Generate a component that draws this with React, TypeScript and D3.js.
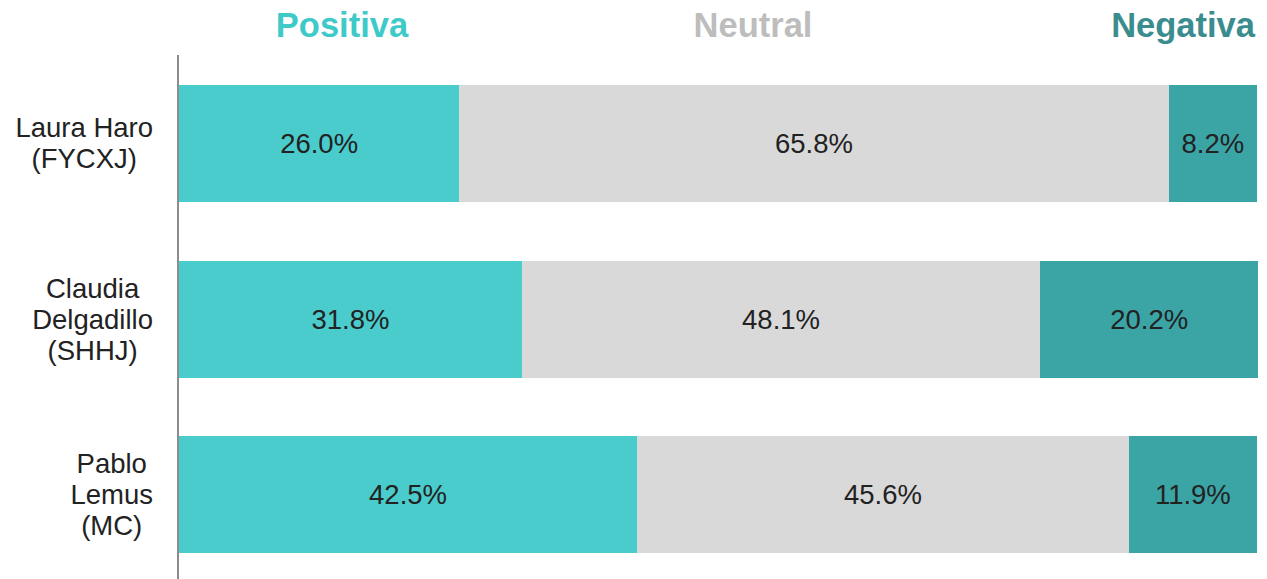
import React, { useEffect, useRef } from 'react';
import * as d3 from 'd3';

// candidate labels, one entry per line
const candidates = [
  ['Laura Haro', '(FYCXJ)'],
  ['Claudia', 'Delgadillo', '(SHHJ)'],
  ['Pablo', 'Lemus', '(MC)'],
];
const keys = ['Positiva', 'Neutral', 'Negativa'];
const positiva = [26.0, 31.8, 42.5];
const neutral = [65.8, 48.1, 45.6];
const negativa = [8.2, 20.2, 11.9];

const barColors = ['#4ACBCC', '#D9D9D9', '#3BA5A6'];
const headColors = ['#3FCACA', '#BDBDBD', '#3A8C8E'];

const App = () => {
  const ref = useRef<SVGSVGElement>(null);

  useEffect(() => {
    document.body.style.margin = '0';
    const width = 1267;
    const height = 579;
    const marginLeft = 179;
    const marginRight = 10;
    const font = "'Liberation Sans', Arial, sans-serif";

    const rows = candidates.map((c, i) => ({
      name: c.join(' '),
      lines: c,
      Positiva: positiva[i],
      Neutral: neutral[i],
      Negativa: negativa[i],
    }));

    const series = d3.stack<any>().keys(keys)(rows);

    const x = d3.scaleLinear().domain([0, 100]).range([marginLeft, width - marginRight]);
    const y = d3.scaleBand()
      .domain(rows.map(d => d.name))
      .range([56, 582])
      .paddingInner(0.335)
      .paddingOuter(0.165);

    const svg = d3.select(ref.current)
      .attr('width', width)
      .attr('height', height)
      .attr('viewBox', [0, 0, width, height] as any)
      .style('display', 'block')
      .style('font-family', font);
    svg.selectAll('*').remove();

    const layer = svg.append('g')
      .selectAll('g')
      .data(series)
      .join('g')
      .attr('fill', (_d, i) => barColors[i]);

    layer.selectAll('rect')
      .data(D => D)
      .join('rect')
      .attr('x', d => Math.round(x(d[0])))
      .attr('y', d => Math.round(y(d.data.name)!))
      .attr('width', d => Math.round(x(d[1])) - Math.round(x(d[0])))
      .attr('height', Math.round(y.bandwidth()));

    layer.selectAll('text')
      .data(D => D)
      .join('text')
      .attr('x', d => (x(d[0]) + x(d[1])) / 2)
      .attr('y', d => y(d.data.name)! + y.bandwidth() / 2)
      .attr('dy', '0.35em')
      .attr('text-anchor', 'middle')
      .attr('fill', '#222')
      .style('font-size', '27.5px')
      .text(d => (d[1] - d[0]).toFixed(1) + '%');

    // axis line
    svg.append('line')
      .attr('x1', marginLeft - 1)
      .attr('x2', marginLeft - 1)
      .attr('y1', 55)
      .attr('y2', height)
      .attr('stroke', '#8c8c8c')
      .attr('stroke-width', 2);

    // candidate labels: block right-aligned, lines centered in the block
    const lineH = 31;
    const labelRight = 153;
    rows.forEach(r => {
      const g = svg.append('g');
      const t = g.selectAll('text')
        .data(r.lines)
        .join('text')
        .attr('y', (_d, i) => y(r.name)! + y.bandwidth() / 2 + (i - (r.lines.length - 1) / 2) * lineH)
        .attr('dy', '0.35em')
        .attr('text-anchor', 'middle')
        .attr('fill', '#222')
        .style('font-size', '27.5px')
        .text(d => d);
      let maxW = 0;
      t.each(function () {
        maxW = Math.max(maxW, (this as SVGTextElement).getComputedTextLength());
      });
      t.attr('x', labelRight - maxW / 2);
    });

    // headers
    const heads = [
      { x: 342, anchor: 'middle' },
      { x: 753, anchor: 'middle' },
      { x: 1255, anchor: 'end' },
    ];
    svg.append('g')
      .selectAll('text')
      .data(keys)
      .join('text')
      .attr('x', (_d, i) => heads[i].x)
      .attr('y', 37)
      .attr('text-anchor', (_d, i) => heads[i].anchor)
      .attr('fill', (_d, i) => headColors[i])
      .style('font-size', '34.5px')
      .style('font-weight', 'bold')
      .text(d => d);
  }, []);

  return <svg ref={ref} />;
};

export default App;
